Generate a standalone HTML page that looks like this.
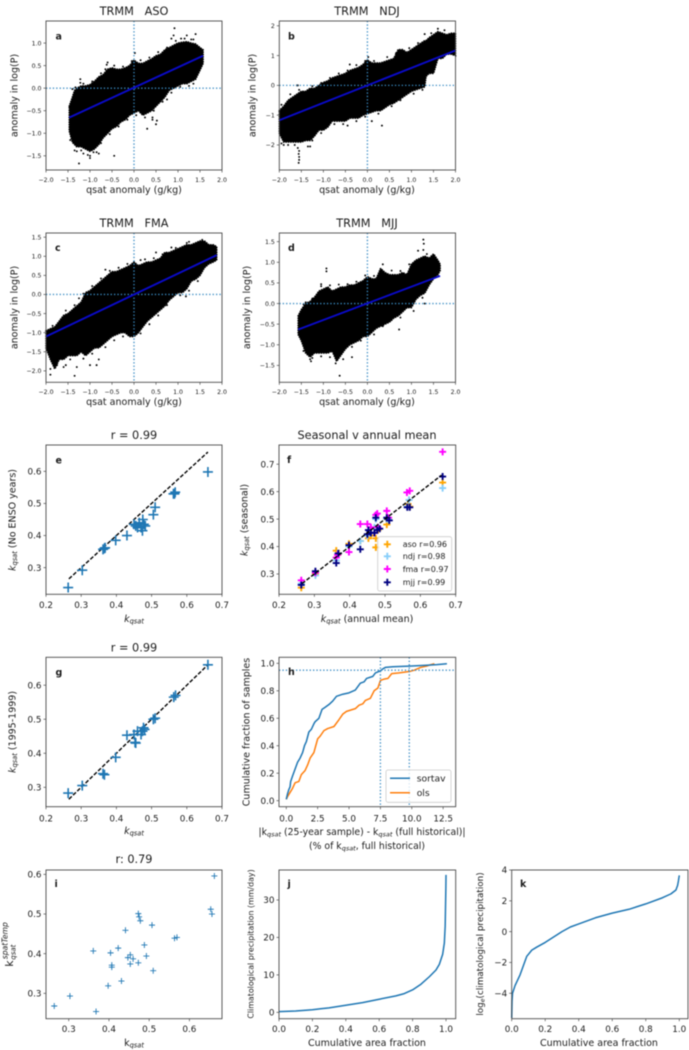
<!DOCTYPE html>
<html lang="en">
<head>
<meta charset="utf-8">
<title>TRMM kqsat multi-panel figure</title>
<style>
html,body{margin:0;padding:0;background:#fff;width:689px;height:1050px;overflow:hidden}
svg{display:block;filter:blur(0.5px)}
text{font-family:"DejaVu Sans","Liberation Sans",sans-serif;fill:#1c1c1c}
.title{font-size:11.3px;text-anchor:middle}
.lab{font-size:9.5px;text-anchor:middle}
.plab{font-size:9.5px;font-weight:bold}
.leg{font-size:8px}
.sub{font-size:70%;font-style:italic}
.it{font-style:italic}
</style>
</head>
<body>
<svg id="figure" xmlns="http://www.w3.org/2000/svg" width="689" height="1050" viewBox="0 0 689 1050">
<rect x="0" y="0" width="689" height="1050" fill="#fff"/>
<g id="marks"></g>

<text class="title" x="134" y="15" xml:space="preserve">TRMM   ASO</text>
<text class="title" x="367" y="15" xml:space="preserve">TRMM   NDJ</text>
<text class="title" x="134" y="227" xml:space="preserve">TRMM   FMA</text>
<text class="title" x="367" y="227" xml:space="preserve">TRMM   MJJ</text>
<text class="title" x="134" y="439">r = 0.99</text>
<text class="title" x="367" y="439">Seasonal v annual mean</text>
<text class="title" x="134" y="651.5">r = 0.99</text>
<text class="title" x="134" y="863">r: 0.79</text>

<text class="lab" x="134" y="193">qsat anomaly (g/kg)</text>
<text class="lab" x="367" y="193">qsat anomaly (g/kg)</text>
<text class="lab" x="134" y="405">qsat anomaly (g/kg)</text>
<text class="lab" x="367" y="405">qsat anomaly (g/kg)</text>
<text class="lab" transform="translate(17.5,95.5) rotate(-90)">anomaly in log(P)</text>
<text class="lab" transform="translate(255.5,95.5) rotate(-90)">anomaly in log(P)</text>
<text class="lab" transform="translate(17.5,307.5) rotate(-90)">anomaly in log(P)</text>
<text class="lab" transform="translate(250,307.5) rotate(-90)">anomaly in log(P)</text>

<text class="lab" x="134" y="622"><tspan class="it">k</tspan><tspan class="sub" dy="1.5">qsat</tspan></text>
<text class="lab" transform="translate(15.5,520) rotate(-90)"><tspan class="it">k</tspan><tspan class="sub" dy="1.5">qsat</tspan><tspan dy="-1.5"> (No ENSO years)</tspan></text>
<text class="lab" x="367" y="622"><tspan class="it">k</tspan><tspan class="sub" dy="1.5">qsat</tspan><tspan dy="-1.5"> (annual mean)</tspan></text>
<text class="lab" transform="translate(247.5,520) rotate(-90)"><tspan class="it">k</tspan><tspan class="sub" dy="1.5">qsat</tspan><tspan dy="-1.5"> (seasonal)</tspan></text>
<text class="lab" x="134" y="834"><tspan class="it">k</tspan><tspan class="sub" dy="1.5">qsat</tspan></text>
<text class="lab" transform="translate(15.5,732) rotate(-90)"><tspan class="it">k</tspan><tspan class="sub" dy="1.5">qsat</tspan><tspan dy="-1.5"> (1995-1999)</tspan></text>
<text class="lab" x="362" y="835" style="font-size:9.3px">|k<tspan class="sub" dy="1.5">qsat</tspan><tspan dy="-1.5"> (25-year sample) - k</tspan><tspan class="sub" dy="1.5">qsat</tspan><tspan dy="-1.5"> (full historical)|</tspan></text>
<text class="lab" x="367" y="849" style="font-size:9.3px">(% of k<tspan class="sub" dy="1.5">qsat</tspan><tspan dy="-1.5">, full historical)</tspan></text>
<text class="lab" transform="translate(249.5,732) rotate(-90)">Cumulative fraction of samples</text>
<text class="lab" x="134" y="1046">k<tspan class="sub" dy="1.5">qsat</tspan></text>
<text transform="translate(13,966.7) rotate(-90)" style="font-size:11px"><tspan x="0" y="0">k</tspan><tspan x="7" y="2.5" style="font-size:7px;font-style:italic">qsat</tspan><tspan x="7.5" y="-5.5" style="font-size:7.6px;font-style:italic">spatTemp</tspan></text>
<text class="lab" x="367" y="1046">Cumulative area fraction</text>
<text class="lab" transform="translate(253.5,944) rotate(-90)" style="font-size:7.9px">Climatological precipitation (mm/day)</text>
<text class="lab" x="599" y="1046">Cumulative area fraction</text>
<text class="lab" transform="translate(483,944) rotate(-90)" style="font-size:8.8px">log<tspan class="sub" dy="1.5">e</tspan><tspan dy="-1.5">(climatological precipitation)</tspan></text>

<text class="plab" x="55.5" y="39.5">a</text>
<text class="plab" x="288" y="39.5">b</text>
<text class="plab" x="55" y="251">c</text>
<text class="plab" x="288" y="251">d</text>
<text class="plab" x="55.5" y="463.5">e</text>
<text class="plab" x="287" y="463">f</text>
<text class="plab" x="55.5" y="675.5">g</text>
<text class="plab" x="288" y="675">h</text>
<text class="plab" x="54.5" y="887">i</text>
<text class="plab" x="287.5" y="887">j</text>
<text class="plab" x="520" y="887">k</text>

<g>
<rect x="377.7" y="536.7" width="74" height="54.3" rx="2" fill="#fff" fill-opacity="0.8" stroke="#ccc" stroke-width="0.8"/>
<path d="M383.8 544.3h7M387.3 540.8v7" stroke="#ffa500" stroke-width="1.9" fill="none"/>
<text class="leg" x="402.7" y="547.2">aso r=0.96</text>
<path d="M383.8 556.3h7M387.3 552.8v7" stroke="#87cefa" stroke-width="1.9" fill="none"/>
<text class="leg" x="402.7" y="559.2">ndj r=0.98</text>
<path d="M383.8 569h7M387.3 565.5v7" stroke="#ff00ff" stroke-width="1.9" fill="none"/>
<text class="leg" x="402.7" y="571.9">fma r=0.97</text>
<path d="M383.8 582.3h7M387.3 578.8v7" stroke="#000080" stroke-width="1.9" fill="none"/>
<text class="leg" x="402.7" y="585.2">mjj r=0.99</text>
</g>
<g>
<rect x="386" y="770" width="65" height="32.3" rx="2" fill="#fff" fill-opacity="0.8" stroke="#ccc" stroke-width="0.8"/>
<line x1="390" x2="410" y1="778.3" y2="778.3" stroke="#1f77b4" stroke-width="1.5"/>
<text x="416.7" y="781.5" style="font-size:9.2px">sortav</text>
<line x1="390" x2="410" y1="792.7" y2="792.7" stroke="#ff7f0e" stroke-width="1.5"/>
<text x="416.7" y="796" style="font-size:9.2px">ols</text>
</g>
</svg>

<script>
// ---------- Panel a (ASO) ----------
const aCloudX = [-1.47,-1.4,-1.35,-1.3,-1.2,-1.1,-1,-0.9,-0.8,-0.7,-0.6,-0.5,-0.4,-0.3,-0.2,-0.1,0,0.1,0.2,0.3,0.4,0.5,0.6,0.7,0.8,0.9,1,1.1,1.2,1.3,1.4,1.5,1.57];
const aCloudUpper = [-0.4,-0.2,-0.05,0,0.05,0.05,0.08,0.15,0.25,0.3,0.42,0.45,0.42,0.42,0.45,0.5,0.62,0.55,0.55,0.6,0.65,0.72,0.75,0.85,0.9,0.95,1,1.02,1.03,1,0.98,0.9,0.85];
const aCloudLower = [-0.95,-1.2,-1.25,-1.3,-1.3,-1.35,-1.4,-1.35,-1.25,-1.1,-1,-0.9,-0.85,-0.75,-0.7,-0.6,-0.55,-0.5,-0.6,-0.55,-0.5,-0.4,-0.3,-0.2,-0.05,0,0.05,0.1,0.1,0.15,0.2,0.4,0.55];
const aOutX = [0.92,-1.25,-0.45,1.4,1.2,0.9,0.3,0.5,-1.22,-0.6,0.02,-1,-1,-1.3,-1.15,-0.8,0.42,0.42,0.75,-1.22,-0.62,0.85,1.07,1.35,-0.85,0.52,-1.4,-1.33,-1.15,-0.95,-0.75,-0.65,-0.45,-0.25,-0.05,0.15,0.35,0.55,0.75,0.95,1.15,1.3,-1.45,-1.35,-1.2,-1.05,-0.92,-0.75,-0.55,-0.35,-0.15,0.05,0.25,0.45,0.65,0.85,1.05,1.25,1.35];
const aOutY = [1.33,-1.67,-1.5,1.2,1.17,1.17,-0.9,-0.8,0.2,0.57,0.78,-1.55,-1.5,-1.4,-1.45,-1.45,-0.7,-0.65,-0.25,0.12,0.52,1.1,1.1,1.08,-1.42,-0.72,-0.02,0.02,0.1,0.15,0.33,0.42,0.5,0.48,0.6,0.62,0.68,0.8,0.9,1.05,1.1,1.08,-1.15,-1.38,-1.38,-1.48,-1.42,-1.22,-1.02,-0.85,-0.7,-0.6,-0.65,-0.5,-0.3,-0.1,0.03,0.05,0.1];
const aFitX = [-1.47,1.57];
const aFitY = [-0.65,0.72];

// ---------- Panel b (NDJ) ----------
const bCloudX = [-2,-1.9,-1.8,-1.7,-1.6,-1.5,-1.4,-1.3,-1.2,-1.1,-1,-0.9,-0.8,-0.7,-0.6,-0.5,-0.4,-0.3,-0.2,-0.1,0,0.1,0.2,0.3,0.4,0.5,0.6,0.7,0.8,0.9,1,1.1,1.2,1.3,1.33,1.4,1.5,1.6,1.7,1.8,1.9,2];
const bCloudUpper = [-0.85,-0.7,-0.5,-0.4,-0.3,-0.2,-0.2,-0.1,-0.1,0,0.1,0.15,0.25,0.3,0.35,0.4,0.5,0.55,0.6,0.7,0.85,0.75,0.75,0.75,0.8,0.85,0.9,1.2,1.2,1.1,1.2,1.3,1.4,1.5,1.5,1.6,1.7,1.8,1.75,1.7,1.75,1.75];
const bCloudLower = [-1.6,-1.9,-1.9,-1.9,-1.9,-1.9,-1.85,-1.85,-1.7,-1.5,-1.5,-1.4,-1.2,-1.2,-1.2,-1.2,-1.1,-1.1,-1.1,-1,-0.95,-0.9,-0.85,-0.85,-0.75,-0.65,-0.6,-0.5,-0.4,-0.3,-0.2,-0.15,-0.1,-0.05,0.3,0.4,0.4,0.9,0.9,1.05,1.05,1];
const bOutX = [-1.56,-1.55,-1.55,-1.56,-1.55,-1.58,-1.35,-1.3,-1.8,-1.58,0.33,-0.45,1.6,1.3,0.02,-0.4,0.1,-1.9,-1.6,1.75,-1.95,-1.75,-1.55,-1.25,-1.05,-0.85,-0.65,-0.45,-0.25,-0.05,0.15,0.45,0.65,0.95,1.15,1.45,-1.95,-1.65,-1.25,-1.05,-0.75,-0.55,-0.25,-0.05,0.25,0.55,0.75,1.05,1.25];
const bOutY = [-2.6,-2.5,-2.4,-2.3,-2.2,-2.1,-2.05,-2.05,-2,0,-1.35,-1.35,1.9,1.72,0.95,0.7,-1.2,-2,0,1.85,-0.65,-0.3,-0.15,-0.03,0.08,0.25,0.4,0.5,0.68,0.82,0.82,0.95,1.08,1.25,1.42,1.75,-1.95,-2,-1.85,-1.6,-1.3,-1.3,-1.2,-1.05,-0.95,-0.7,-0.5,-0.28,-0.15];
const bFitX = [-2,2];
const bFitY = [-1.17,1.17];

// ---------- Panel c (FMA) ----------
const cCloudX = [-2,-1.9,-1.8,-1.7,-1.6,-1.5,-1.4,-1.3,-1.2,-1.1,-1,-0.9,-0.8,-0.7,-0.6,-0.5,-0.4,-0.3,-0.2,-0.1,0,0.1,0.2,0.3,0.4,0.5,0.6,0.7,0.8,0.9,1,1.1,1.2,1.3,1.4,1.5,1.6,1.7,1.8,1.88];
const cCloudUpper = [-0.95,-0.9,-0.85,-0.7,-0.55,-0.5,-0.4,-0.3,-0.2,0.05,0.1,0.2,0.3,0.4,0.5,0.6,0.6,0.65,0.7,0.75,0.85,0.75,0.8,0.85,0.85,0.9,0.95,1.1,1.1,1.15,1.2,1.25,1.3,1.3,1.35,1.4,1.4,1.3,1.3,1.25];
const cCloudLower = [-1.4,-1.7,-1.95,-1.7,-1.7,-1.6,-1.6,-1.6,-1.5,-1.6,-1.5,-1.4,-1.4,-1.3,-1.2,-1.1,-1.05,-1,-1,-1.1,-1.1,-1,-0.85,-0.7,-0.6,-0.5,-0.4,-0.3,-0.15,-0.05,0.05,0.05,0.15,0.35,0.4,0.5,0.7,0.8,0.85,0.9];
const cOutX = [-1.35,-1.9,-1.9,-0.85,-0.8,-1,0.15,-0.65,0.5,0.85,1.2,1.55,1.18,-1.3,-1.6,-1.75,-1.25,-1.55,-1.85,-1.55,-1.35,-1.15,-0.95,-0.75,-0.55,-0.35,-0.15,0.25,0.45,0.65,0.95,1.25,-1.75,-1.45,-1.15,-0.95,-0.65,-0.45,-0.25,0.15,0.35,0.55,0.75,1.05,1.25,1.45];
const cOutY = [-2.13,-2.1,-1.95,-1.85,-1.7,-1.85,0.9,0.65,1.1,1.23,1.35,1.43,-0.05,-1.9,-1.9,-1.8,-0.1,-1.85,-0.82,-0.42,-0.28,0.02,0.22,0.42,0.62,0.7,0.8,0.92,0.95,1.05,1.22,1.38,-1.85,-1.7,-1.68,-1.55,-1.38,-1.2,-1.1,-1.02,-0.78,-0.55,-0.28,-0.02,0.1,0.35];
const cFitX = [-2,1.88];
const cFitY = [-1.1,1.03];

// ---------- Panel d (MJJ) ----------
const dCloudX = [-1.57,-1.5,-1.4,-1.3,-1.2,-1.1,-1,-0.9,-0.8,-0.7,-0.6,-0.5,-0.4,-0.3,-0.2,-0.1,0,0.1,0.2,0.3,0.4,0.5,0.6,0.7,0.8,0.9,1,1.1,1.2,1.3,1.4,1.5,1.6,1.65];
const dCloudUpper = [-0.3,-0.15,0,0.05,0.15,0.3,0.35,0.4,0.3,0.35,0.4,0.4,0.45,0.45,0.5,0.55,0.65,0.6,0.6,0.85,0.75,0.7,0.7,0.7,0.75,0.7,0.95,1.05,1.1,1.15,1.1,1.2,1.05,0.95];
const dCloudLower = [-0.75,-0.9,-1.2,-1.3,-1.2,-1.2,-1.2,-1.2,-1.15,-1.4,-1.25,-1.1,-1,-0.95,-0.9,-0.8,-0.8,-0.7,-0.6,-0.55,-0.5,-0.45,-0.35,-0.3,-0.2,-0.1,-0.1,0.1,0.2,0.25,0.45,0.6,0.7,0.8];
const dOutX = [-0.93,-0.93,-1.05,-0.63,-0.35,-1.3,-1.28,0.72,1.27,1.28,-0.72,-1.4,1.15,1.27,1.3,-1.45,-1.25,-1.05,-0.85,-0.65,-0.45,-0.25,-0.05,0.15,0.35,0.55,0.75,0.95,1.35,-1.45,-1.25,-1.05,-0.85,-0.55,-0.35,-0.15,0.15,0.35,0.55,0.75,1.05,1.25];
const dOutY = [0.85,0.78,0.47,-1.75,-1.3,-1.35,-1.4,-0.63,1.55,1.45,-1.45,0.03,1.28,1.3,0,-0.02,0.12,0.42,0.44,0.46,0.47,0.53,0.68,0.67,0.95,0.8,0.79,0.95,1.2,-1.15,-1.32,-1.28,-1.3,-1.35,-1.05,-0.9,-0.75,-0.55,-0.4,-0.34,-0.18,0.14];
const dFitX = [-1.57,1.65];
const dFitY = [-0.63,0.67];

// ---------- Panel e ----------
const eX = [0.263,0.303,0.362,0.366,0.368,0.398,0.43,0.45,0.455,0.46,0.465,0.47,0.475,0.478,0.482,0.474,0.505,0.51,0.562,0.567,0.565,0.66];
const eY = [0.238,0.292,0.357,0.36,0.362,0.385,0.4,0.435,0.43,0.425,0.44,0.425,0.45,0.435,0.43,0.415,0.465,0.488,0.53,0.535,0.53,0.598];
const eLineX = [0.265,0.66];
const eLineY = [0.265,0.66];

// ---------- Panel f ----------
const fAsoX = [0.263,0.303,0.362,0.366,0.398,0.43,0.453,0.46,0.474,0.474,0.48,0.505,0.51,0.565,0.57,0.663];
const fAsoY = [0.25,0.3,0.385,0.37,0.41,0.42,0.43,0.44,0.43,0.397,0.46,0.48,0.5,0.555,0.545,0.633];
const fNdjX = [0.263,0.303,0.362,0.366,0.398,0.43,0.45,0.46,0.47,0.474,0.505,0.51,0.563,0.568,0.663];
const fNdjY = [0.265,0.295,0.35,0.375,0.4,0.42,0.44,0.45,0.47,0.5,0.5,0.5,0.545,0.57,0.613];
const fFmaX = [0.263,0.303,0.362,0.366,0.398,0.43,0.45,0.46,0.47,0.474,0.478,0.48,0.505,0.51,0.562,0.57,0.663];
const fFmaY = [0.277,0.305,0.36,0.37,0.38,0.482,0.482,0.47,0.45,0.515,0.52,0.47,0.53,0.505,0.597,0.603,0.745];
const fMjjX = [0.263,0.303,0.362,0.368,0.398,0.43,0.45,0.453,0.46,0.47,0.474,0.478,0.485,0.505,0.512,0.563,0.57,0.663];
const fMjjY = [0.26,0.31,0.34,0.375,0.405,0.39,0.445,0.46,0.45,0.45,0.505,0.46,0.465,0.505,0.495,0.543,0.543,0.655];
const fLineX = [0.265,0.66];
const fLineY = [0.265,0.66];

// ---------- Panel g ----------
const gX = [0.263,0.303,0.362,0.366,0.398,0.43,0.45,0.453,0.455,0.46,0.47,0.474,0.477,0.48,0.505,0.51,0.563,0.568,0.66];
const gY = [0.283,0.305,0.34,0.337,0.388,0.453,0.455,0.432,0.43,0.465,0.455,0.465,0.475,0.47,0.5,0.503,0.565,0.57,0.66];
const gLineX = [0.265,0.66];
const gLineY = [0.265,0.66];

// ---------- Panel h ----------
const hSortavX = [0,0.1,0.2,0.3,0.35,0.5,0.7,0.9,1.1,1.3,1.45,1.6,1.8,2,2.2,2.3,2.6,2.85,3.1,3.4,3.7,4,4.5,5,5.5,5.9,6.2,6.4,6.9,7.1,7.5,7.7,7.9,8.5,10,11,12,12.8];
const hSortavY = [0.01,0.05,0.08,0.1,0.14,0.18,0.23,0.28,0.31,0.35,0.4,0.43,0.5,0.52,0.56,0.575,0.6,0.665,0.68,0.7,0.725,0.76,0.775,0.785,0.805,0.855,0.865,0.89,0.905,0.93,0.945,0.96,0.97,0.975,0.98,0.985,0.99,0.997];
const hOlsX = [0,0.1,0.3,0.5,0.7,1,1.2,1.5,1.7,1.9,2.2,2.5,2.7,3,3.3,3.8,4.2,4.5,4.8,5.5,5.8,6.1,6.3,6.7,7,7.3,7.5,7.8,8.1,8.4,9,9.8,10.2,10.7,11.2,11.5,11.8];
const hOlsY = [0.01,0.03,0.06,0.09,0.13,0.14,0.19,0.22,0.26,0.31,0.35,0.45,0.47,0.51,0.525,0.54,0.59,0.63,0.65,0.67,0.695,0.705,0.73,0.745,0.8,0.82,0.875,0.885,0.89,0.925,0.93,0.94,0.95,0.97,0.98,0.99,0.997];
const hVerticals = [7.5,9.8];
const hHorizontal = 0.95;

// ---------- Panel i ----------
const iX = [0.264,0.303,0.368,0.361,0.404,0.407,0.407,0.398,0.431,0.423,0.441,0.447,0.453,0.46,0.453,0.473,0.473,0.475,0.478,0.488,0.493,0.507,0.51,0.563,0.569,0.653,0.656,0.662];
const iY = [0.268,0.293,0.254,0.407,0.402,0.371,0.366,0.319,0.331,0.414,0.459,0.39,0.397,0.387,0.374,0.377,0.501,0.493,0.483,0.422,0.394,0.472,0.357,0.439,0.441,0.512,0.5,0.596];

// ---------- Panel j ----------
const jX = [0,0.1,0.2,0.25,0.3,0.4,0.5,0.6,0.7,0.75,0.8,0.85,0.9,0.94,0.96,0.98,0.99,0.995,0.997,0.999,1];
const jY = [0.2,0.35,0.7,0.95,1.2,1.9,2.6,3.5,4.4,5,6,7.5,9.5,11.3,12.8,15.5,18.5,23,28,33,36.7];

// ---------- Panel k ----------
const kX = [0,0.002,0.005,0.02,0.05,0.07,0.09,0.12,0.15,0.2,0.25,0.3,0.35,0.4,0.5,0.6,0.7,0.8,0.9,0.95,0.98,0.99,0.995,1];
const kY = [-5.6,-4.5,-4,-3.5,-2.8,-2.2,-1.6,-1.2,-1,-0.7,-0.35,0,0.3,0.5,0.9,1.2,1.45,1.8,2.2,2.45,2.7,3,3.3,3.65];

// ---------- Tick labels ----------
const anomalyXTicks = ['-2.0','-1.5','-1.0','-0.5','0.0','0.5','1.0','1.5','2.0'];
const aYTicks = ['-1.5','-1.0','-0.5','0.0','0.5','1.0'];
const bYTicks = ['-2','-1','0','1','2'];
const cYTicks = ['-2.0','-1.5','-1.0','-0.5','0.0','0.5','1.0','1.5'];
const dYTicks = ['-1.5','-1.0','-0.5','0.0','0.5','1.0','1.5'];
const kqsatXTicks = ['0.2','0.3','0.4','0.5','0.6','0.7'];
const eYTicks = ['0.3','0.4','0.5','0.6'];
const fYTicks = ['0.3','0.4','0.5','0.6','0.7'];
const gYTicks = ['0.3','0.4','0.5','0.6'];
const hXTicks = ['0.0','2.5','5.0','7.5','10.0','12.5'];
const hYTicks = ['0.0','0.2','0.4','0.6','0.8','1.0'];
const iXTicks = ['0.3','0.4','0.5','0.6'];
const iYTicks = ['0.3','0.4','0.5','0.6'];
const fractionXTicks = ['0.0','0.2','0.4','0.6','0.8','1.0'];
const jYTicks = ['0','10','20','30'];
const kYTicks = ['-4','-2','0','2','4'];

const SVGNS = 'http://www.w3.org/2000/svg';
const root = document.getElementById('marks');
function make(tag, parent, attrs) {
  const n = document.createElementNS(SVGNS, tag);
  for (const k in attrs) n.setAttribute(k, attrs[k]);
  parent.appendChild(n);
  return n;
}
function scale(d0, d1, r0, r1) {
  return v => r0 + (v - d0) * (r1 - r0) / (d1 - d0);
}
function axes(box, xDom, yDom, xTicks, yTicks, fontSize, xLabelY) {
  const sx = scale(xDom[0], xDom[1], box.l, box.r);
  const sy = scale(yDom[0], yDom[1], box.b, box.t);
  const g = make('g', root, {});
  
  
  const marks = make('g', g, {});
  
  
  const frame = make('rect', g, {x: box.l, y: box.t, width: box.r - box.l, height: box.b - box.t, fill: 'none', stroke: '#4a4a4a', 'stroke-width': 0.9});
  
  
  xTicks.forEach(t => {
    const x = sx(parseFloat(t));
    const m = make('line', g, {x1: x, x2: x, y1: box.b, y2: box.b + 2.5, stroke: '#4a4a4a', 'stroke-width': 0.7});
    
    
    const lab = make('text', g, {x: x, y: xLabelY, 'text-anchor': 'middle', style: 'font-size:' + fontSize + 'px'});
    lab.textContent = t.replace('-', '\u2212');
    
    
  });
  yTicks.forEach(t => {
    const y = sy(parseFloat(t));
    const m = make('line', g, {x1: box.l - 2.5, x2: box.l, y1: y, y2: y, stroke: '#4a4a4a', 'stroke-width': 0.7});
    
    
    const lab = make('text', g, {x: box.l - 4.5, y: y + fontSize * 0.36, 'text-anchor': 'end', style: 'font-size:' + fontSize + 'px'});
    lab.textContent = t.replace('-', '\u2212');
    
    
  });
  return {sx, sy, marks, box};
}
function cloud(ax, xs, upper, lower, outX, outY) {
  const top = xs.map((x, i) => ax.sx(x).toFixed(1) + ',' + ax.sy(upper[i]).toFixed(1));
  const bot = xs.map((x, i) => ax.sx(x).toFixed(1) + ',' + ax.sy(lower[i]).toFixed(1)).reverse();
  const pts = top.concat(bot).join(' ');
  const band = make('polygon', ax.marks, {points: pts, fill: '#000'});
  
  
  const edge = make('polygon', ax.marks, {points: pts, fill: 'none', stroke: '#000', 'stroke-width': 1.7, 'stroke-linecap': 'round', 'stroke-dasharray': '0.3 2.1'});
  
  
  outX.forEach((x, i) => {
    const c = make('circle', ax.marks, {cx: ax.sx(x), cy: ax.sy(outY[i]), r: 0.95, fill: '#000'});
    
    
  });
}
function dotted(ax, x1, y1, x2, y2) {
  const l = make('line', ax.marks, {x1, y1, x2, y2, stroke: '#3a8cc4', 'stroke-width': 1.35, 'stroke-dasharray': '1.3 2.1'});
  
  
}
function crosshair(ax) {
  dotted(ax, ax.sx(0), ax.box.t, ax.sx(0), ax.box.b);
  dotted(ax, ax.box.l, ax.sy(0), ax.box.r, ax.sy(0));
}
function fit(ax, xs, ys) {
  const l = make('line', ax.marks, {x1: ax.sx(xs[0]), y1: ax.sy(ys[0]), x2: ax.sx(xs[1]), y2: ax.sy(ys[1]), stroke: '#0a0ac8', 'stroke-width': 1.9});
  
  
}
function dashLine(ax, xs, ys) {
  const l = make('line', ax.marks, {x1: ax.sx(xs[0]), y1: ax.sy(ys[0]), x2: ax.sx(xs[1]), y2: ax.sy(ys[1]), stroke: '#000', 'stroke-width': 1.4, 'stroke-dasharray': '4 1.8'});
  
  
}
function plus(ax, xs, ys, half, color, w, seriesName) {
  xs.forEach((x, i) => {
    const px = ax.sx(x), py = ax.sy(ys[i]);
    const p = make('path', ax.marks, {d: 'M' + (px - half) + ' ' + py + 'H' + (px + half) + 'M' + px + ' ' + (py - half) + 'V' + (py + half), stroke: color, 'stroke-width': w, fill: 'none'});
    
    
  });
}
function curve(ax, xs, ys, color, seriesName) {
  const pts = xs.map((x, i) => ax.sx(x).toFixed(2) + ',' + ax.sy(ys[i]).toFixed(2)).join(' ');
  const p = make('polyline', ax.marks, {points: pts, fill: 'none', stroke: color, 'stroke-width': 1.5, 'stroke-linejoin': 'round'});
  
  
}

const L1 = {l: 46, r: 222};
const L2 = {l: 279.3, r: 455.5};

const axA = axes({l: L1.l, r: L1.r, t: 21, b: 170}, [-2, 2], [-1.815, 1.49], anomalyXTicks, aYTicks, 6.2, 182);
cloud(axA, aCloudX, aCloudUpper, aCloudLower, aOutX, aOutY);
crosshair(axA);
fit(axA, aFitX, aFitY);

const axB = axes({l: L2.l, r: L2.r, t: 21, b: 170}, [-2, 2], [-2.84, 2.16], anomalyXTicks, bYTicks, 6.2, 182);
cloud(axB, bCloudX, bCloudUpper, bCloudLower, bOutX, bOutY);
crosshair(axB);
fit(axB, bFitX, bFitY);

const axC = axes({l: L1.l, r: L1.r, t: 233, b: 382.3}, [-2, 2], [-2.3, 1.61], anomalyXTicks, cYTicks, 6.2, 394);
cloud(axC, cCloudX, cCloudUpper, cCloudLower, cOutX, cOutY);
crosshair(axC);
fit(axC, cFitX, cFitY);

const axD = axes({l: L2.l, r: L2.r, t: 233, b: 382.3}, [-2, 2], [-1.91, 1.71], anomalyXTicks, dYTicks, 6.2, 394);
cloud(axD, dCloudX, dCloudUpper, dCloudLower, dOutX, dOutY);
crosshair(axD);
fit(axD, dFitX, dFitY);

const axE = axes({l: L1.l, r: L1.r, t: 445, b: 594.3}, [0.2, 0.7], [0.217, 0.682], kqsatXTicks, eYTicks, 8.8, 608);
dashLine(axE, eLineX, eLineY);
plus(axE, eX, eY, 5, '#1f77b4', 1.6, 'point-e');

const axF = axes({l: L2.l - 0.3, r: L2.r + 0.2, t: 445, b: 594.3}, [0.2, 0.7], [0.226, 0.77], kqsatXTicks, fYTicks, 8.8, 608);
plus(axF, fAsoX, fAsoY, 3.5, '#ffa500', 1.9, 'point-aso');
plus(axF, fNdjX, fNdjY, 3.5, '#87cefa', 1.9, 'point-ndj');
plus(axF, fFmaX, fFmaY, 3.5, '#ff00ff', 1.9, 'point-fma');
plus(axF, fMjjX, fMjjY, 3.5, '#000080', 1.9, 'point-mjj');
dashLine(axF, fLineX, fLineY);

const axG = axes({l: L1.l, r: L1.r, t: 657.3, b: 806.7}, [0.2, 0.7], [0.243, 0.682], kqsatXTicks, gYTicks, 8.8, 821.5);
dashLine(axG, gLineX, gLineY);
plus(axG, gX, gY, 5, '#1f77b4', 1.6, 'point-g');

const axH = axes({l: L2.l - 0.3, r: L2.r + 0.2, t: 657.3, b: 806.7}, [-0.58, 13.5], [-0.0437, 1.0437], hXTicks, hYTicks, 8.8, 821.5);
curve(axH, hOlsX, hOlsY, '#ff7f0e', 'ols-curve');
curve(axH, hSortavX, hSortavY, '#1f77b4', 'sortav-curve');
hVerticals.forEach(v => dotted(axH, axH.sx(v), axH.box.t, axH.sx(v), axH.box.b));
dotted(axH, axH.box.l, axH.sy(hHorizontal), axH.box.r, axH.sy(hHorizontal));

const axI = axes({l: L1.l, r: L1.r, t: 870, b: 1018.7}, [0.2435, 0.681], [0.236, 0.611], iXTicks, iYTicks, 8.8, 1032);
plus(axI, iX, iY, 3, '#1f77b4', 0.9, 'point-i');

const axJ = axes({l: L2.l - 0.3, r: L2.r + 0.2, t: 870, b: 1018.7}, [0, 1.058], [-1.7, 38], fractionXTicks, jYTicks, 8.8, 1032);
curve(axJ, jX, jY, '#1f77b4', 'precip-curve');

const axK = axes({l: 511.7, r: 688, t: 870, b: 1018.7}, [0, 1.052], [-5.65, 4], fractionXTicks, kYTicks, 8.8, 1032);
curve(axK, kX, kY, '#1f77b4', 'log-precip-curve');
</script>
</body>
</html>
